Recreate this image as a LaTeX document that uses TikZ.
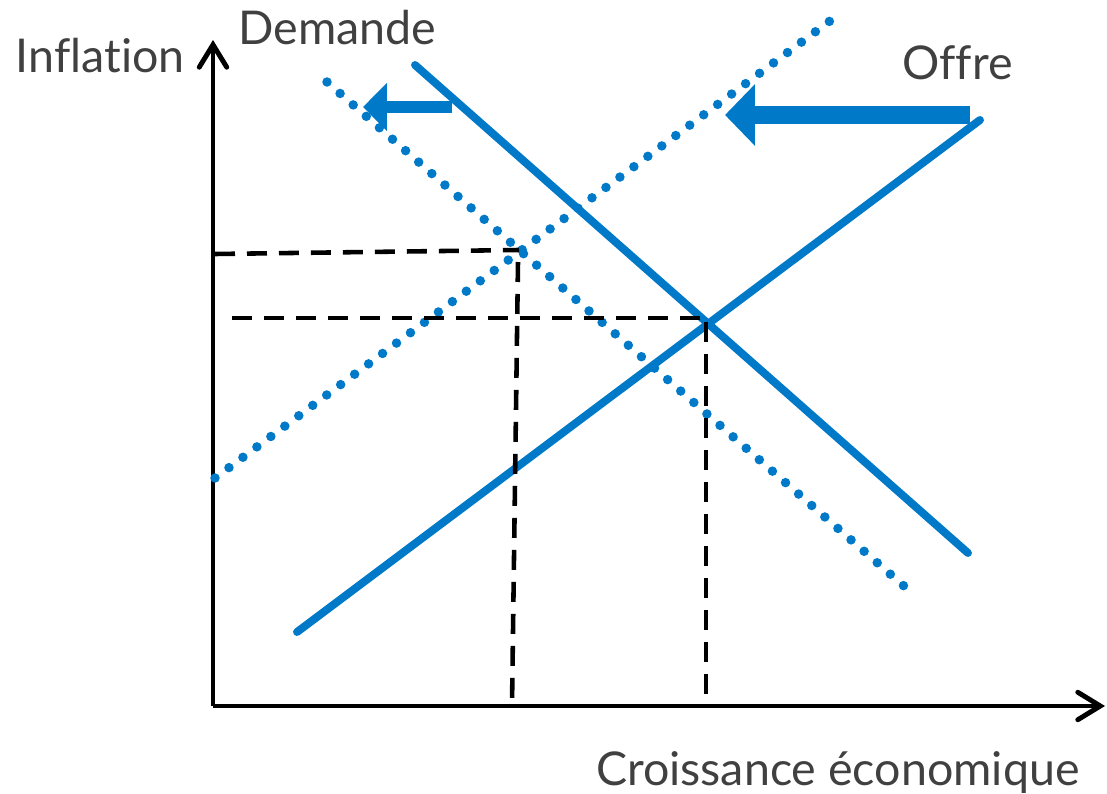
\documentclass[tikz,border=0pt]{standalone}
\usepackage{fontspec}
\setmainfont[Ligatures=NoCommon]{Lato}
\usetikzlibrary{arrows.meta}
\definecolor{bleu}{RGB}{0,122,200}
\definecolor{gris}{RGB}{64,64,64}

\begin{document}
\begin{tikzpicture}[x=0.02cm,y=-0.02cm,
	every node/.style={font=\fontsize{26.5}{32}\selectfont, text=gris, inner sep=0pt},
	axe/.style={line width=2.8pt, -{Straight Barb[length=0.45cm,width=0.55cm,line cap=round]}},
	courbe/.style={line width=4.5pt, bleu, line cap=round},
	pointille/.style={line width=5.4pt, bleu, line cap=round, dash pattern=on 0pt off 0.348cm},
	tirets/.style={line width=2.6pt, dash pattern=on 0.4cm off 0.24cm},
	deplacement/.style={bleu, line cap=butt}]
	\useasboundingbox (0,0) rectangle (1107,794);
	% axes
	\coordinate (O) at (213,706);
	\coordinate (ymax) at (213,40);
	\coordinate (xmax) at (1105,706);
	\draw[axe] (O) -- (ymax);
	\draw[axe] (O) -- (xmax);
	\node[anchor=base east] (inflation) at (185,73) {Inflation};
	\node[anchor=base east] (croissance) at (1080,785) {Croissance économique};
	% courbes initiales
	\coordinate (o1) at (297,632);
	\coordinate (o2) at (980,120);
	\coordinate (d1) at (415,65);
	\coordinate (d2) at (968,553);
	\draw[courbe] (o1) -- (o2);
	\draw[courbe] (d1) -- (d2);
	\node[anchor=base east] (offre) at (1013,80) {Offre};
	\node[anchor=base west] (demande) at (238,45) {Demande};
	% courbes deplacees
	\coordinate (op1) at (215,478);
	\coordinate (op2) at (842,12);
	\coordinate (dp1) at (327,82);
	\coordinate (dp2) at (905,587);
	\draw[pointille] (op1) -- (op2);
	\draw[pointille] (dp1) -- (dp2);
	% equilibres
	\coordinate (E) at (706,318);
	\coordinate (Ep) at (519,250);
	\draw[tirets] (232,318) -- (E);
	\draw[tirets] (706,322) -- (706,706);
	\draw[tirets] (215,254) -- (Ep);
	\draw[tirets] (518,262) -- (512,706);
	% fleches
	\draw[deplacement, line width=0.36cm, -{Triangle[length=0.6cm,width=1.2cm]}] (970,115) -- (725,115);
	\draw[deplacement, line width=0.26cm, -{Triangle[length=0.48cm,width=0.94cm]}] (452,107) -- (363,107);
\end{tikzpicture}
\end{document}
